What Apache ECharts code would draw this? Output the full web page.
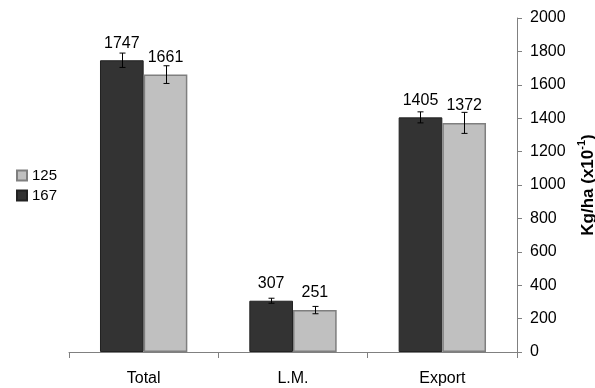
<!DOCTYPE html>
<html>
<head>
<meta charset="utf-8">
<script src="https://cdn.jsdelivr.net/npm/echarts@6/dist/echarts.min.js"></script>
<style>
html,body{margin:0;padding:0;background:#fff;}
#chart{width:595px;height:388px;}
</style>
</head>
<body>
<div id="chart"></div>
<script>
const categories = ['Total', 'L.M.', 'Export'];
const seriesNames = ['167', '125'];
const values167 = [1747, 307, 1405];
const values125 = [1661, 251, 1372];
const err167 = [43, 15, 33];
const err125 = [53, 22, 63];
const yTicks = [0, 200, 400, 600, 800, 1000, 1200, 1400, 1600, 1800, 2000];

const FONT = '"Liberation Sans", Arial, sans-serif';
const CAT_GAP = 0.415;
const barFrac = (1 - CAT_GAP) / 2;

function errorSeries(vals, errs, sideSign) {
  return {
    type: 'custom',
    silent: true,
    z: 5,
    data: vals.map((v, i) => [i, v, errs[i]]),
    renderItem: function (params, api) {
      const i = api.value(0), v = api.value(1), e = api.value(2);
      const band = api.size([1, 0])[0];
      const off = sideSign * band * barFrac / 2;
      const top = api.coord([i, v + e]);
      const bot = api.coord([i, v - e]);
      const x = Math.round(top[0] + off) + 0.5;
      const cap = 3;
      const style = { stroke: '#000', lineWidth: 1 };
      return {
        type: 'group',
        children: [
          { type: 'line', shape: { x1: x, y1: top[1], x2: x, y2: bot[1] }, style: style },
          { type: 'line', shape: { x1: x - cap, y1: top[1], x2: x + cap, y2: top[1] }, style: style },
          { type: 'line', shape: { x1: x - cap, y1: bot[1], x2: x + cap, y2: bot[1] }, style: style }
        ]
      };
    }
  };
}

const chart = echarts.init(document.getElementById('chart'), null, { renderer: 'canvas' });
chart.setOption({
  animation: false,
  textStyle: { fontFamily: FONT },
  grid: { left: 69, right: 78, top: 18, bottom: 36, containLabel: false, outerBoundsMode: 'none' },
  legend: {
    data: ['125', '167'],
    orient: 'vertical',
    left: 11,
    top: 163,
    itemWidth: 10,
    itemHeight: 10,
    itemGap: 5,
    itemTextGap: 7,
    icon: 'rect',
    textStyle: { fontSize: 15, color: '#000', fontFamily: FONT }
  },
  xAxis: {
    type: 'category',
    data: categories,
    axisLine: { lineStyle: { color: '#808080', width: 1 } },
    axisTick: { show: true, length: 6, lineStyle: { color: '#808080' } },
    axisLabel: { color: '#000', fontSize: 16, margin: 19, fontFamily: FONT }
  },
  yAxis: {
    type: 'value',
    position: 'right',
    min: yTicks[0],
    max: yTicks[yTicks.length - 1],
    interval: 200,
    splitLine: { show: false },
    axisLine: { show: true, lineStyle: { color: '#808080', width: 1 } },
    axisTick: { show: true, length: 5, lineStyle: { color: '#808080' } },
    axisLabel: { color: '#000', fontSize: 16, margin: 13, fontFamily: FONT, formatter: function (v) { return String(v); } },
    name: '{a|Kg/ha (x10}{s|-1}{a|)}',
    nameLocation: 'middle',
    nameRotate: 90,
    nameGap: 55,
    nameTextStyle: {
      rich: {
        a: { fontSize: 17, fontWeight: 'bold', color: '#000', fontFamily: FONT, lineHeight: 20, verticalAlign: 'bottom' },
        s: { fontSize: 11, fontWeight: 'bold', color: '#000', fontFamily: FONT, lineHeight: 20, verticalAlign: 'top' }
      }
    }
  },
  series: [
    {
      name: seriesNames[0],
      type: 'bar',
      data: values167,
      barGap: '0%',
      barCategoryGap: (CAT_GAP * 100) + '%',
      itemStyle: { color: '#333333', borderColor: '#222222', borderWidth: 1 },
      label: { show: true, position: 'top', distance: 9, color: '#000', fontSize: 16, fontFamily: FONT }
    },
    {
      name: seriesNames[1],
      type: 'bar',
      data: values125,
      itemStyle: { color: '#c0c0c0', borderColor: '#7f7f7f', borderWidth: 1.5 },
      label: { show: true, position: 'top', distance: 9, color: '#000', fontSize: 16, fontFamily: FONT }
    },
    errorSeries(values167, err167, -1),
    errorSeries(values125, err125, 1)
  ]
});
</script>
</body>
</html>
